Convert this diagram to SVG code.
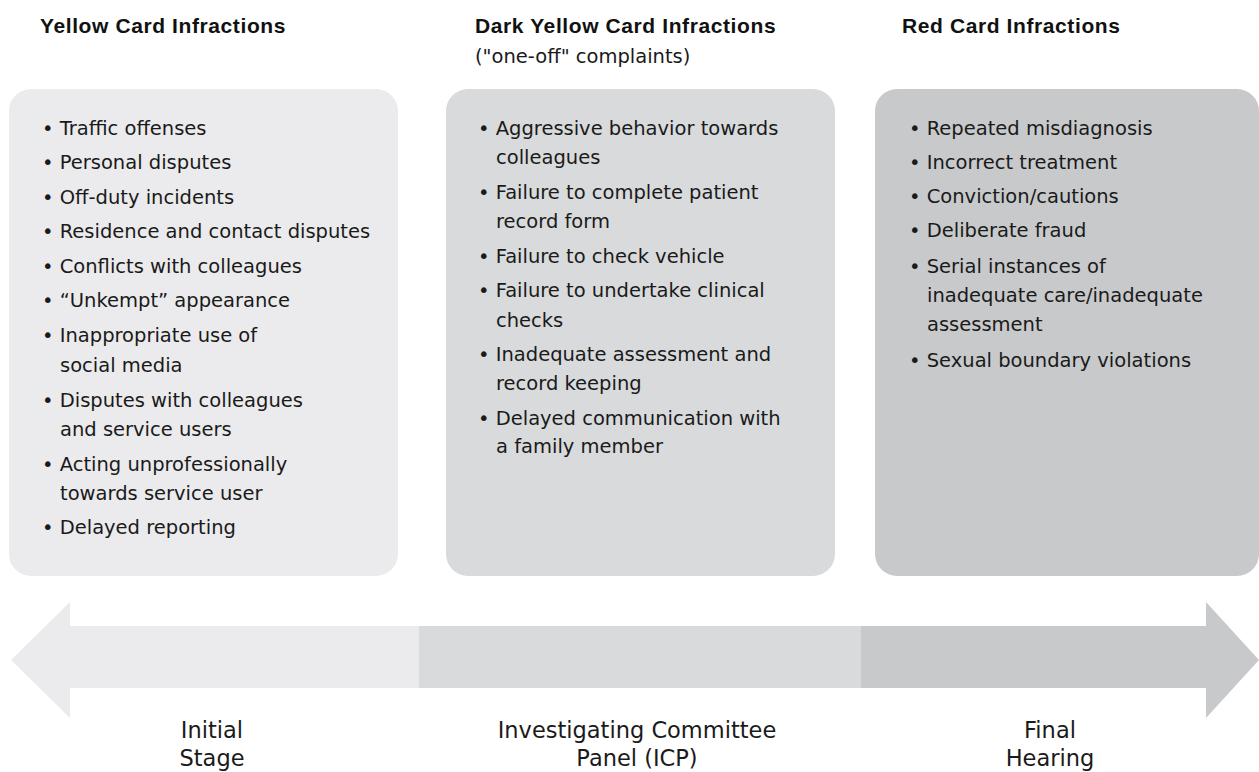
<svg xmlns="http://www.w3.org/2000/svg" width="1259" height="772" viewBox="0 0 1259 772">
<style>
.hd{font-family:"Liberation Sans",Arial,sans-serif;font-weight:bold;font-size:21px;letter-spacing:0.6px;fill:#111}
.sub{font-family:"DejaVu Sans",sans-serif;font-size:19.5px;fill:#1a1a1a}
.it{font-family:"DejaVu Sans",sans-serif;font-size:19.5px;fill:#1a1a1a}
.lb{font-family:"DejaVu Sans",sans-serif;font-size:22.5px;fill:#1a1a1a;text-anchor:middle}
.c1{fill:#ebebed}.c2{fill:#d9dadc}.c3{fill:#c8c9cb}
</style>
<rect width="1259" height="772" fill="#ffffff"/>
<g id="yellow">
<text class="hd" x="40" y="33">Yellow Card Infractions</text>
<rect class="c1" x="9" y="89" width="389" height="487" rx="22" ry="22"/>
<g class="it">
<text x="42" y="135">• Traffic offenses</text>
<text x="42" y="169">• Personal disputes</text>
<text x="42" y="204">• Off-duty incidents</text>
<text x="42" y="238">• Residence and contact disputes</text>
<text x="42" y="273">• Conflicts with colleagues</text>
<text x="42" y="307">• “Unkempt” appearance</text>
<text x="42" y="342">• Inappropriate use of</text>
<text x="60" y="372">social media</text>
<text x="42" y="407">• Disputes with colleagues</text>
<text x="60" y="436">and service users</text>
<text x="42" y="471">• Acting unprofessionally</text>
<text x="60" y="500">towards service user</text>
<text x="42" y="534">• Delayed reporting</text>
</g>
</g>
<g id="darkyellow">
<text class="hd" x="475" y="33">Dark Yellow Card Infractions</text>
<text class="sub" x="475" y="63">("one-off" complaints)</text>
<rect class="c2" x="446" y="89" width="389" height="487" rx="22" ry="22"/>
<g class="it">
<text x="478" y="135">• Aggressive behavior towards</text>
<text x="496" y="164">colleagues</text>
<text x="478" y="199">• Failure to complete patient</text>
<text x="496" y="228">record form</text>
<text x="478" y="263">• Failure to check vehicle</text>
<text x="478" y="297">• Failure to undertake clinical</text>
<text x="496" y="327">checks</text>
<text x="478" y="361">• Inadequate assessment and</text>
<text x="496" y="390">record keeping</text>
<text x="478" y="425">• Delayed communication with</text>
<text x="496" y="453">a family member</text>
</g>
</g>
<g id="red">
<text class="hd" x="902" y="33">Red Card Infractions</text>
<rect class="c3" x="875" y="89" width="384" height="487" rx="22" ry="22"/>
<g class="it">
<text x="909" y="135">• Repeated misdiagnosis</text>
<text x="909" y="169">• Incorrect treatment</text>
<text x="909" y="203">• Conviction/cautions</text>
<text x="909" y="237">• Deliberate fraud</text>
<text x="909" y="273">• Serial instances of</text>
<text x="927" y="302">inadequate care/inadequate</text>
<text x="927" y="331">assessment</text>
<text x="909" y="367">• Sexual boundary violations</text>
</g>
</g>
<g id="connectors">
<polygon class="c1" points="11,660 70,602 70,626 420,626 420,688 70,688 70,718"/>
<rect class="c2" x="419" y="626" width="443" height="62"/>
<polygon class="c3" points="861,626 1206,626 1206,602 1259,660 1206,718 1206,688 861,688"/>
</g>
<g id="stage-initial"><text class="lb" x="212" y="738">Initial</text><text class="lb" x="212" y="766">Stage</text></g>
<g id="stage-icp"><text class="lb" x="637" y="738">Investigating Committee</text><text class="lb" x="637" y="766">Panel (ICP)</text></g>
<g id="stage-final"><text class="lb" x="1050" y="738">Final</text><text class="lb" x="1050" y="766">Hearing</text></g>
</svg>
